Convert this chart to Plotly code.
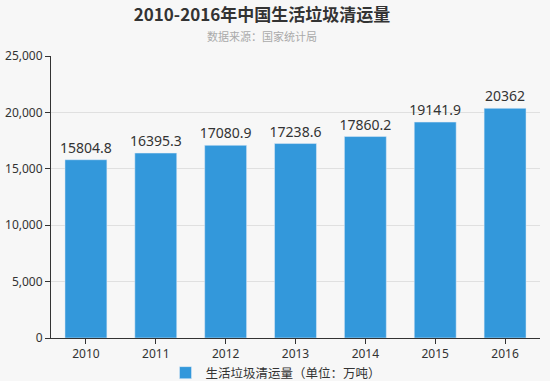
import plotly.graph_objects as go

years = ["2010", "2011", "2012", "2013", "2014", "2015", "2016"]
values = [15804.8, 16395.3, 17080.9, 17238.6, 17860.2, 19141.9, 20362]
labels = ["15804.8", "16395.3", "17080.9", "17238.6", "17860.2", "19141.9", "20362"]
series_name = "生活垃圾清运量（单位：万吨）"

font_family = "Noto Sans, Noto Sans CJK SC, sans-serif"

W, H = 550, 381
L, R, T, B = 51, 10, 56, 43
ph = H - T - B

fig = go.Figure()
fig.add_trace(go.Bar(
    x=years, y=values, name=series_name,
    text=labels, textposition="outside", cliponaxis=False, constraintext="none",
    textfont=dict(size=14, color="#333333"),
    marker=dict(color="#3398DB"),
    width=0.6,
))
fig.update_layout(
    width=W, height=H,
    paper_bgcolor="#f7f7f7", plot_bgcolor="#f7f7f7",
    margin=dict(l=L, r=R, t=T, b=B, autoexpand=False),
    font=dict(family=font_family, size=12, color="#333333"),
    title=dict(text="<b>2010-2016年中国生活垃圾清运量</b>", x=262 / W, xanchor="center",
               y=1 - 15 / H, yanchor="middle",
               font=dict(size=17, color="#333333", family="Noto Sans CJK SC, sans-serif")),
    showlegend=True,
    legend=dict(orientation="h", x=(276 - L) / (W - L - R), xanchor="center",
                y=-(358 - T - ph) / ph, yanchor="top",
                font=dict(size=12.5, color="#333333"), bgcolor="rgba(0,0,0,0)"),
    xaxis=dict(showline=True, linecolor="#333333", linewidth=1, ticks="outside",
               ticklen=5, tickcolor="#333333", tickfont=dict(size=12, color="#333333"),
               automargin=False),
    yaxis=dict(range=[0, 25000], dtick=5000, tickformat=",", showline=True,
               linecolor="#333333", linewidth=1, ticks="outside", ticklen=5,
               tickcolor="#333333", gridcolor="#e0e0e0", zeroline=False,
               tickfont=dict(size=12, color="#333333"), automargin=False),
    bargap=0.4,
    annotations=[dict(text="数据来源：国家统计局", x=(262 - L) / (W - L - R), xref="paper",
                      xanchor="center",
                      y=1 + (T - 36) / ph, yref="paper", yanchor="middle",
                      showarrow=False,
                      font=dict(size=11, color="#aaaaaa", family="Noto Sans CJK SC, sans-serif"))],
)
fig.write_html("out.html", config={"displayModeBar": False},
               post_script="document.body.style.margin='0';document.body.style.overflow='hidden';")
